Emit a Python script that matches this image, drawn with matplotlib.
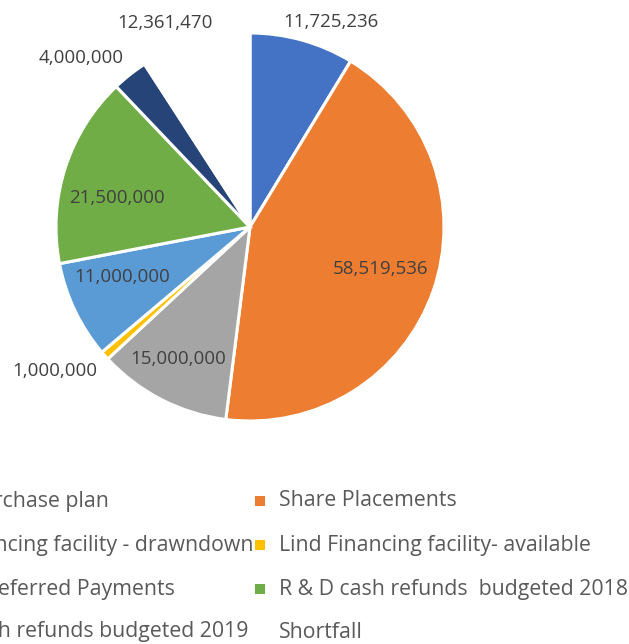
import numpy as np
import matplotlib
matplotlib.use("Agg")
import matplotlib.pyplot as plt
from matplotlib.patches import Rectangle

plt.rcParams['font.family'] = ['Open Sans', 'DejaVu Sans']

labels = [
    "Share purchase plan",
    "Share Placements",
    "Lind Financing facility - drawndown",
    "Lind Financing facility- available",
    "Vendor Deferred Payments",
    "R & D cash refunds  budgeted 2018",
    "R & D cash refunds budgeted 2019",
    "Shortfall",
]
values = [11725236, 58519536, 15000000, 1000000, 11000000, 21500000, 4000000, 12361470]
colors = ["#4472C4", "#ED7D31", "#A5A5A5", "#FFC000", "#5B9BD5", "#70AD47", "#264478", "#FFFFFF"]
# data label placement per slice: (inside the slice?, radius factor, angle nudge in degrees)
label_pos = [(False, 1.05, 0), (True, 0.705, 1.3), (True, 0.775, -1.4), (False, 1.05, 0),
             (True, 0.705, -4.2), (True, 0.70, 5.5), (False, 1.05, 0), (False, 1.05, 0)]

W, H = 629, 644
fig = plt.figure(figsize=(W / 100, H / 100), dpi=100)
cx, cy, r = 250, 227, 194
ax = fig.add_axes([(cx - r) / W, (H - cy - r) / H, 2 * r / W, 2 * r / H])

wedges, _ = ax.pie(values, colors=colors, startangle=90, counterclock=False, radius=1,
                   wedgeprops=dict(edgecolor='white', linewidth=2.2))
ax.set_xlim(-1, 1)
ax.set_ylim(-1, 1)
ax.set_aspect('equal')
ax.axis('off')

label_color = "#404040"
renderer = fig.canvas.get_renderer()
for w, v, (inside, f, nudge) in zip(wedges, values, label_pos):
    mid = np.deg2rad((w.theta1 + w.theta2) / 2 + nudge)
    x, y = f * np.cos(mid), f * np.sin(mid)
    t = ax.text(x, y, f"{v:,}", ha='center', va='center', fontsize=13.5,
                color=label_color, clip_on=False)
    if not inside:
        # outside labels: anchor point sits on the label edge facing the pie
        bb = t.get_window_extent(renderer)
        fx = np.clip(0.5 - np.cos(mid), 0, 1)
        fy = np.clip(0.5 - np.sin(mid), 0, 1)
        ax_px = ax.transData.transform((x, y))
        new_cx = ax_px[0] + (0.5 - fx) * bb.width
        new_cy = ax_px[1] + (0.5 - fy) * bb.height
        t.set_position(ax.transData.inverted().transform((new_cx, new_cy)))

# legend: two columns, four rows
legend_color = "#595959"
legend_size = 15.3
order = [[0, 2, 4, 6], [1, 3, 5, 7]]
row_y = [501, 545, 589, 632]
right_text_x = 279
marker = 10
gap_text = 14
# left column text ends just before the right column markers
left_widths = []
probe = []
for i in order[0]:
    tt = fig.text(0, 0, labels[i], fontsize=legend_size, color=legend_color)
    probe.append(tt)
    left_widths.append(tt.get_window_extent(renderer).width)
left_text_x = 254 - max(left_widths)
for tt in probe:
    tt.remove()

for col, text_x in zip(order, [left_text_x, right_text_x]):
    for i, yy in zip(col, row_y):
        mx = text_x - gap_text - marker / 2
        if colors[i].upper() != "#FFFFFF":
            fig.patches.append(Rectangle(((mx - marker / 2) / W, 1 - (yy + marker / 2) / H),
                                         marker / W, marker / H, facecolor=colors[i],
                                         edgecolor='none', transform=fig.transFigure))
        fig.text(text_x / W, 1 - yy / H, labels[i], fontsize=legend_size, color=legend_color,
                 ha='left', va='center')

fig.savefig("out.png", dpi=100, facecolor='white')
